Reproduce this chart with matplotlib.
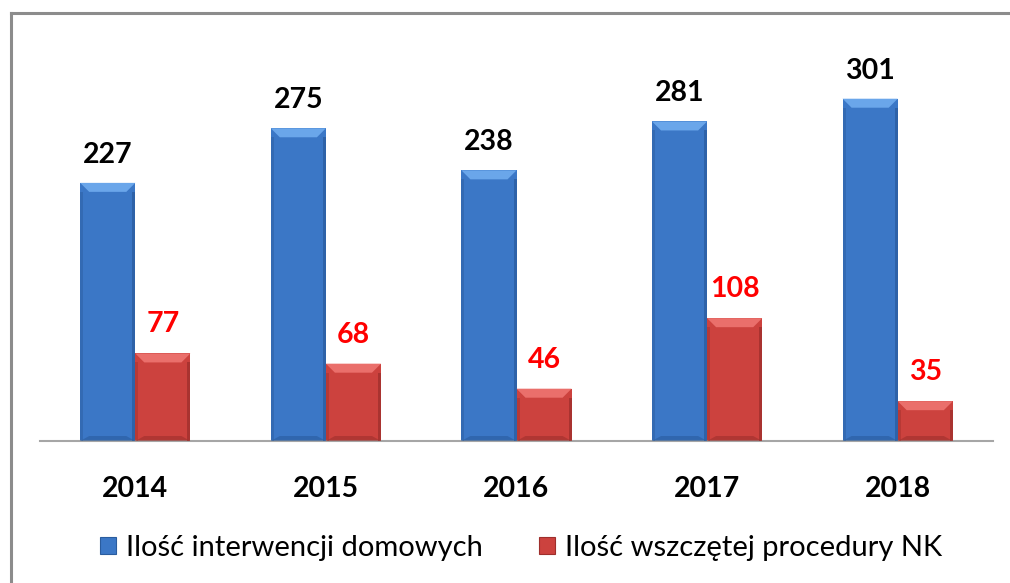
import matplotlib
matplotlib.use("Agg")
import matplotlib.pyplot as plt
from matplotlib.patches import Polygon, Rectangle
from matplotlib.lines import Line2D
import numpy as np

# ── data ──────────────────────────────────────────────────────────────────────
years = ["2014", "2015", "2016", "2017", "2018"]
interwencje = [227, 275, 238, 281, 301]
procedury_nk = [77, 68, 46, 108, 35]
labels = ["Ilość interwencji domowych", "Ilość wszczętej procedury NK"]

# ── style ─────────────────────────────────────────────────────────────────────
FONT = "Lato"
BLUE = "#3b77c6"
BLUE_TOP = "#6aa6ea"
BLUE_DARK = "#2a5c9e"
RED = "#cc423e"
RED_TOP = "#ea6f6b"
RED_DARK = "#9e2f2c"
W, H, DPI = 1010, 583, 100

fig = plt.figure(figsize=(W / DPI, H / DPI), dpi=DPI)
fig.patch.set_facecolor("white")

# axes placed in pixel terms: baseline at y=441, x from 40 to 993
ax = fig.add_axes([40 / W, (H - 441) / H, (993 - 40) / W, 398 / H])
ax.set_xlim(-0.5, len(years) - 0.5)
ax.set_ylim(0, 350)

x = np.arange(len(years))
bw = 0.289

bars1 = ax.bar(x - bw / 2, interwencje, bw, color=BLUE, zorder=2)
bars2 = ax.bar(x + bw / 2, procedury_nk, bw, color=RED, zorder=2)

# bevel effect on each bar
px_x = 1 / 190.6
px_y = 350 / 398


def bevel(bars, top, dark):
    for p in bars.patches:
        x0, y0 = p.get_x(), p.get_y()
        w, h = p.get_width(), p.get_height()
        bx, by = 9 * px_x, 9 * px_y
        # top light trapezoid
        ax.add_patch(Polygon([(x0, y0 + h), (x0 + w, y0 + h),
                              (x0 + w - bx, y0 + h - by), (x0 + bx, y0 + h - by)],
                             closed=True, color=top, lw=0, zorder=3))
        # side and bottom darker strips
        sx = 3 * px_x
        ax.add_patch(Rectangle((x0, y0), sx, h - by, color=dark, alpha=0.45, lw=0, zorder=3))
        ax.add_patch(Rectangle((x0 + w - sx, y0), sx, h - by, color=dark, alpha=0.75, lw=0, zorder=3))
        ax.add_patch(Polygon([(x0, y0), (x0 + w, y0),
                              (x0 + w - bx, y0 + 5 * px_y), (x0 + bx, y0 + 5 * px_y)],
                             closed=True, color=dark, alpha=0.6, lw=0, zorder=3))


bevel(bars1, BLUE_TOP, BLUE_DARK)
bevel(bars2, RED_TOP, RED_DARK)

# value labels
for xi, v in zip(x, interwencje):
    ax.annotate(str(v), (xi - bw / 2, v), xytext=(0, 28), textcoords="offset pixels",
                ha="center", va="center", fontsize=20.5, fontweight="bold",
                family=FONT, color="black")
for xi, v in zip(x, procedury_nk):
    ax.annotate(str(v), (xi + bw / 2, v), xytext=(0, 29), textcoords="offset pixels",
                ha="center", va="center", fontsize=20.5, fontweight="bold",
                family=FONT, color="#ff0000")

# axes styling
for s in ["top", "right", "left"]:
    ax.spines[s].set_visible(False)
ax.spines["bottom"].set_color("#a6a6a6")
ax.spines["bottom"].set_linewidth(1.5)
ax.set_yticks([])
ax.set_xticks(x)
ax.set_xticklabels(years, fontsize=20.5, fontweight="bold", family=FONT)
ax.tick_params(axis="x", length=0, pad=25)

# legend
handles = [Rectangle((0, 0), 1, 1, facecolor=BLUE, edgecolor=BLUE_DARK, lw=0.8),
           Rectangle((0, 0), 1, 1, facecolor=RED, edgecolor=RED_DARK, lw=0.8)]
leg = fig.legend(handles, labels, loc="center", bbox_to_anchor=(521 / W, 1 - 548 / H),
                 ncol=2, frameon=False, handlelength=0.55, handleheight=0.55,
                 handletextpad=0.35, columnspacing=1.9,
                 prop={"family": FONT, "size": 21})

# outer frame (left and top edges visible)
fig.add_artist(Line2D([10.5 / W, 10.5 / W], [0, 1 - 13 / H], color="#8c8c8c",
                      lw=2.2, transform=fig.transFigure))
fig.add_artist(Line2D([10.5 / W, 1], [1 - 13 / H, 1 - 13 / H], color="#8c8c8c",
                      lw=2.2, transform=fig.transFigure))

fig.savefig("out.png", dpi=DPI)
